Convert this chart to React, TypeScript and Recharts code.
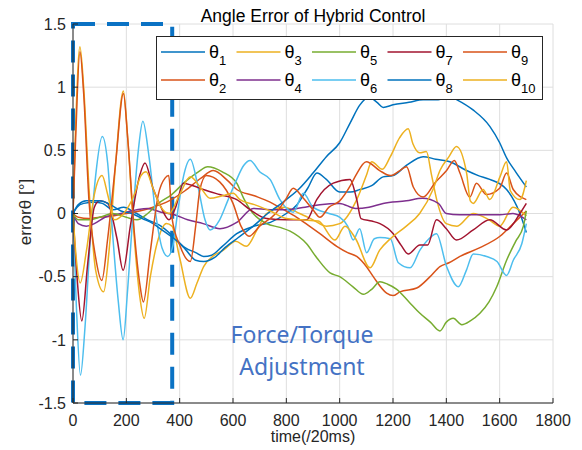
import React from "react"
import {
  LineChart,
  Line,
  XAxis,
  YAxis,
  CartesianGrid,
  ReferenceArea,
} from "recharts"

type Pt = [number, number]

const xTicks = [0, 200, 400, 600, 800, 1000, 1200, 1400, 1600, 1800]
const yTicks = [-1.5, -1, -0.5, 0, 0.5, 1, 1.5]
const zoneEnd = 372

const theta1: Pt[] = [
  [0, 0], [15, 0.05], [40, 0.08], [80, 0.09], [110, 0.08], [150, 0.03], [190, 0.05], [230, 0.01],
  [280, -0.05], [330, -0.1], [370, -0.17], [420, -0.27], [460, -0.31], [490, -0.34], [520, -0.33],
  [560, -0.26], [614, -0.16], [680, -0.1], [740, -0.07], [800, 0.0], [840, 0.07], [880, 0.2],
  [915, 0.32], [950, 0.27], [1000, 0.17], [1040, 0.17], [1076, 0.19], [1120, 0.22], [1163, 0.29],
  [1200, 0.3], [1250, 0.38], [1313, 0.45], [1360, 0.43], [1413, 0.41], [1476, 0.34], [1520, 0.3],
  [1563, 0.27], [1626, 0.19], [1676, 0.0], [1700, -0.15],
]

const theta2: Pt[] = [
  [0, 0], [20, -0.03], [60, -0.04], [100, -0.03], [150, -0.02], [200, 0.0], [250, 0.02], [300, 0.05],
  [360, 0.1], [420, 0.18], [480, 0.28], [526, 0.34], [580, 0.26], [614, 0.19], [680, 0.14], [739, 0.09],
  [790, 0.03], [839, -0.03], [880, -0.09], [926, -0.16], [989, -0.26], [1030, -0.31], [1064, -0.34],
  [1100, -0.42], [1126, -0.5], [1176, -0.63], [1200, -0.65], [1226, -0.62], [1289, -0.59], [1339, -0.5],
  [1376, -0.42], [1410, -0.39], [1451, -0.34], [1526, -0.27], [1601, -0.18], [1651, -0.08], [1700, 0.02],
]

const theta3: Pt[] = [
  [0, 0], [10, 0.7], [26, 1.32], [40, 1.0], [60, 0.2], [85, -0.45], [115, -0.62], [135, -0.3],
  [160, 0.4], [189, 0.97], [205, 0.6], [230, -0.2], [250, -0.65], [267, -0.83], [290, -0.5],
  [320, -0.2], [350, -0.08], [371, -0.1], [400, -0.35], [440, -0.67], [465, -0.55], [490, -0.42],
  [530, -0.33], [564, -0.29], [610, -0.22], [650, -0.26], [690, -0.13], [726, 0.0], [790, 0.05],
  [850, 0.0], [900, -0.05], [950, -0.1], [1000, -0.08], [1064, 0.11], [1100, 0.3], [1120, 0.41],
  [1160, 0.35], [1190, 0.45], [1225, 0.6], [1257, 0.67], [1275, 0.55], [1300, 0.48], [1325, 0.49],
  [1345, 0.3], [1365, 0.1], [1400, -0.08], [1440, -0.1], [1500, 0.0], [1560, -0.05], [1600, -0.1],
  [1650, 0.05], [1700, -0.02],
]

const theta4: Pt[] = [
  [0, 0], [20, -0.08], [50, -0.1], [80, -0.08], [120, -0.03], [180, 0.0], [240, 0.03], [280, 0.04],
  [330, 0.01], [380, -0.01], [430, -0.05], [488, -0.08], [551, -0.12], [614, -0.07], [676, 0.04],
  [740, 0.03], [801, 0.03], [870, 0.05], [926, 0.07], [1000, 0.08], [1060, 0.04], [1110, 0.05],
  [1163, 0.08], [1250, 0.1], [1310, 0.12], [1370, 0.08], [1400, 0.0], [1450, -0.01], [1500, -0.01],
  [1600, -0.01], [1650, 0.0], [1700, -0.05],
]

const theta5: Pt[] = [
  [0, 0], [20, -0.05], [60, -0.05], [100, -0.03], [150, 0.0], [200, -0.03], [240, -0.05], [280, 0.0],
  [320, 0.08], [370, 0.15], [420, 0.25], [470, 0.33], [505, 0.37], [560, 0.33], [614, 0.24], [640, 0.12],
  [664, 0.03], [726, -0.08], [776, -0.11], [814, -0.14], [876, -0.24], [914, -0.35], [964, -0.47],
  [1000, -0.5], [1050, -0.58], [1089, -0.64], [1120, -0.6], [1151, -0.54], [1180, -0.56], [1214, -0.6],
  [1260, -0.7], [1301, -0.79], [1340, -0.86], [1376, -0.93], [1400, -0.86], [1426, -0.83], [1458, -0.88],
  [1490, -0.85], [1526, -0.79], [1560, -0.7], [1589, -0.58], [1626, -0.37], [1660, -0.22], [1689, -0.1],
  [1700, 0.02],
]

const theta6: Pt[] = [
  [0, 0], [12, -0.7], [28, -1.28], [45, -0.9], [65, -0.2], [85, 0.3], [110, 0.61], [130, 0.4],
  [150, -0.2], [170, -0.7], [188, -1.0], [205, -0.6], [225, 0.0], [245, 0.5], [262, 0.73], [285, 0.45],
  [310, 0.0], [335, -0.28], [355, -0.34], [375, -0.25], [395, 0.05], [415, 0.3], [440, 0.43], [470, 0.2],
  [495, -0.05], [514, -0.13], [550, -0.05], [580, 0.1], [610, 0.25], [640, 0.38], [664, 0.42], [700, 0.33],
  [739, 0.27], [776, 0.11], [826, 0.01], [864, 0.16], [900, 0.05], [960, 0.0], [1001, -0.03], [1030, -0.1],
  [1051, -0.21], [1075, -0.12], [1101, -0.31], [1130, -0.2], [1151, -0.19], [1190, -0.2], [1220, -0.39],
  [1264, -0.43], [1301, -0.29], [1335, -0.2], [1363, -0.16], [1401, -0.42], [1445, -0.58], [1475, -0.45],
  [1501, -0.32], [1551, -0.34], [1590, -0.38], [1626, -0.49], [1651, -0.37], [1683, -0.24], [1700, -0.08],
]

const theta7: Pt[] = [
  [0, 0], [15, -0.5], [33, -0.85], [55, -0.4], [80, 0.05], [100, 0.1], [130, 0.08], [165, -0.2],
  [188, -0.45], [215, -0.1], [250, 0.3], [270, 0.4], [300, 0.2], [330, 0.05], [360, -0.05], [385, 0.05],
  [414, 0.24], [450, 0.22], [489, 0.19], [550, 0.15], [614, 0.11], [664, 0.03], [726, -0.04], [801, -0.05],
  [876, -0.05], [914, 0.11], [976, 0.24], [1039, 0.27], [1064, 0.11], [1080, -0.04], [1120, -0.06],
  [1151, -0.08], [1201, -0.16], [1230, -0.25], [1257, -0.32], [1301, -0.25], [1330, -0.25], [1363, -0.05],
  [1400, -0.12], [1438, -0.21], [1501, -0.13], [1563, -0.05], [1626, -0.13], [1676, 0.0], [1700, 0.08],
]

const theta8: Pt[] = [
  [0, 0], [20, 0.07], [50, 0.1], [100, 0.1], [140, 0.07], [180, 0.02], [220, 0.0], [260, -0.04],
  [300, -0.08], [340, -0.14], [380, -0.2], [420, -0.28], [460, -0.37], [490, -0.38], [530, -0.35],
  [570, -0.27], [620, -0.19], [676, -0.1], [730, 0.0], [800, 0.11], [850, 0.2], [900, 0.32], [950, 0.45],
  [1000, 0.56], [1040, 0.72], [1076, 0.86], [1110, 0.92], [1140, 0.88], [1163, 0.84], [1200, 0.86],
  [1260, 0.88], [1313, 0.9], [1370, 0.9], [1410, 0.93], [1440, 0.9], [1500, 0.82], [1563, 0.69],
  [1600, 0.56], [1626, 0.44], [1660, 0.33], [1700, 0.21],
]

const theta9: Pt[] = [
  [0, 0], [10, 0.6], [26, 1.28], [40, 0.95], [60, 0.1], [85, -0.35], [108, -0.53], [130, -0.2],
  [160, 0.4], [189, 0.95], [205, 0.6], [230, -0.15], [250, -0.55], [264, -0.7], [290, -0.3], [320, 0.15],
  [345, 0.28], [359, 0.3], [371, -0.03], [400, -0.25], [440, -0.38], [460, -0.1], [476, 0.19], [500, 0.3],
  [550, 0.25], [600, 0.08], [630, -0.1], [660, -0.18], [700, -0.1], [760, 0.0], [800, 0.12], [826, 0.2],
  [864, 0.12], [900, 0.03], [926, -0.03], [960, 0.05], [1000, 0.1], [1040, 0.22], [1060, 0.3], [1100, 0.41],
  [1150, 0.34], [1190, 0.3], [1226, 0.34], [1251, 0.37], [1276, 0.21], [1313, 0.13], [1360, 0.25],
  [1401, 0.34], [1430, 0.42], [1451, 0.32], [1488, 0.13], [1513, 0.24], [1550, 0.15], [1600, 0.2],
  [1626, 0.32], [1651, 0.19], [1700, 0.11],
]

const theta10: Pt[] = [
  [0, 0], [12, -0.35], [27, -0.55], [50, -0.3], [80, 0.15], [109, 0.3], [130, 0.15], [155, -0.05],
  [190, 0.0], [230, 0.15], [255, 0.3], [274, 0.33], [300, 0.2], [330, 0.05], [360, 0.0], [400, 0.15],
  [440, 0.29], [480, 0.2], [514, 0.12], [560, 0.14], [601, 0.16], [626, 0.11], [680, 0.07], [740, 0.02],
  [800, -0.04], [860, -0.05], [920, -0.06], [982, -0.21], [1020, -0.1], [1060, -0.2], [1114, -0.43],
  [1150, -0.29], [1190, -0.2], [1250, -0.1], [1300, 0.0], [1350, 0.19], [1376, 0.34], [1410, 0.45],
  [1438, 0.53], [1476, 0.32], [1490, 0.1], [1501, 0.08], [1538, 0.19], [1563, 0.11], [1601, 0.29],
  [1626, 0.41], [1640, 0.18], [1676, 0.11], [1700, 0.26],
]

const seriesList = [
  { key: "1", color: "#0072BD", values: theta1 },
  { key: "2", color: "#D95319", values: theta2 },
  { key: "3", color: "#EDB120", values: theta3 },
  { key: "4", color: "#7E2F8E", values: theta4 },
  { key: "5", color: "#77AC30", values: theta5 },
  { key: "6", color: "#4DBEEE", values: theta6 },
  { key: "7", color: "#A2142F", values: theta7 },
  { key: "8", color: "#0072BD", values: theta8 },
  { key: "9", color: "#D95319", values: theta9 },
  { key: "10", color: "#EDB120", values: theta10 },
]

const FONT = "'Liberation Sans', Arial, sans-serif"
const INK = "#262626"

function LegendBox() {
  return (
    <div
      style={{
        position: "absolute",
        left: 156,
        top: 36,
        width: 385,
        height: 62,
        background: "#fff",
        border: `1px solid ${INK}`,
        fontFamily: FONT,
      }}
    >
      <svg width={385} height={62}>
        {seriesList.map((s, i) => {
          const col = Math.floor(i / 2)
          const row = i % 2
          const x = 4 + col * 75.5
          const y = 15 + row * 28
          return (
            <g key={s.key}>
              <line x1={x} x2={x + 44} y1={y} y2={y} stroke={s.color} strokeWidth={1.5} />
              <text x={x + 48} y={y + 6} fontSize={18} fill="#000" fontFamily={FONT}>
                θ
                <tspan dy={7} fontSize={13}>
                  {s.key}
                </tspan>
              </text>
            </g>
          )
        })}
      </svg>
    </div>
  )
}

export default function App() {
  return (
    <div style={{ position: "absolute", left: 0, top: 0, width: 582, height: 450, background: "#fff" }}>
      <LineChart width={582} height={450} margin={{ top: 24, right: 29, bottom: 0, left: 0 }}>
        <CartesianGrid stroke="#dedede" strokeWidth={1} xAxisId={0} yAxisId={0} />
        <XAxis
          dataKey="t"
          type="number"
          domain={[0, 1800]}
          ticks={xTicks}
          height={47}
          tickSize={-5}
          tickMargin={17}
          tick={{ fill: INK, fontSize: 16, fontFamily: FONT }}
          tickLine={{ stroke: INK }}
          axisLine={{ stroke: INK }}
          allowDataOverflow
        />
        <XAxis
          xAxisId="top"
          orientation="top"
          dataKey="t"
          type="number"
          domain={[0, 1800]}
          ticks={xTicks}
          height={0}
          tickSize={-5}
          tickFormatter={() => ""}
          tickLine={{ stroke: INK }}
          axisLine={{ stroke: INK }}
        />
        <YAxis
          type="number"
          domain={[-1.5, 1.5]}
          ticks={yTicks}
          width={73}
          tickSize={-5}
          tickMargin={12}
          tick={{ fill: INK, fontSize: 16, fontFamily: FONT }}
          tickLine={{ stroke: INK }}
          axisLine={{ stroke: INK }}
          allowDataOverflow
        />
        <YAxis
          yAxisId="right"
          orientation="right"
          type="number"
          domain={[-1.5, 1.5]}
          ticks={yTicks}
          width={0}
          tickSize={-5}
          tickFormatter={() => ""}
          tickLine={{ stroke: INK }}
          axisLine={{ stroke: INK }}
        />
        {seriesList.map((s) => (
          <Line
            key={s.key}
            data={s.values.map(([t, v]) => ({ t, v }))}
            dataKey="v"
            type="monotone"
            stroke={s.color}
            strokeWidth={1.5}
            dot={false}
            activeDot={false}
            isAnimationActive={false}
          />
        ))}
        <ReferenceArea
          x1={0}
          x2={zoneEnd}
          y1={-1.5}
          y2={1.5}
          fill="none"
          fillOpacity={0}
          stroke="#0a72c4"
          strokeWidth={4}
          strokeDasharray="22 12"
          ifOverflow="visible"
        />
      </LineChart>
      <LegendBox />
      <svg
        width={582}
        height={450}
        style={{ position: "absolute", left: 0, top: 0, pointerEvents: "none" }}
      >
        <text x={313} y={22} textAnchor="middle" fontSize={17.5} fill="#000" fontFamily={FONT}>
          Angle Error of Hybrid Control
        </text>
        <text x={313} y={442} textAnchor="middle" fontSize={16} fill={INK} fontFamily={FONT}>
          time(/20ms)
        </text>
        <text
          transform="translate(31,212) rotate(-90)"
          textAnchor="middle"
          fontSize={17}
          fill={INK}
          fontFamily={FONT}
        >
          errorθ [°]
        </text>
        <text x={302} y={343} textAnchor="middle" fontSize={23} fill="#4472C4" fontFamily="'Noto Sans', sans-serif">
          Force/Torque
        </text>
        <text x={302} y={375} textAnchor="middle" fontSize={23} fill="#4472C4" fontFamily="'Noto Sans', sans-serif">
          Adjustment
        </text>
      </svg>
    </div>
  )
}
